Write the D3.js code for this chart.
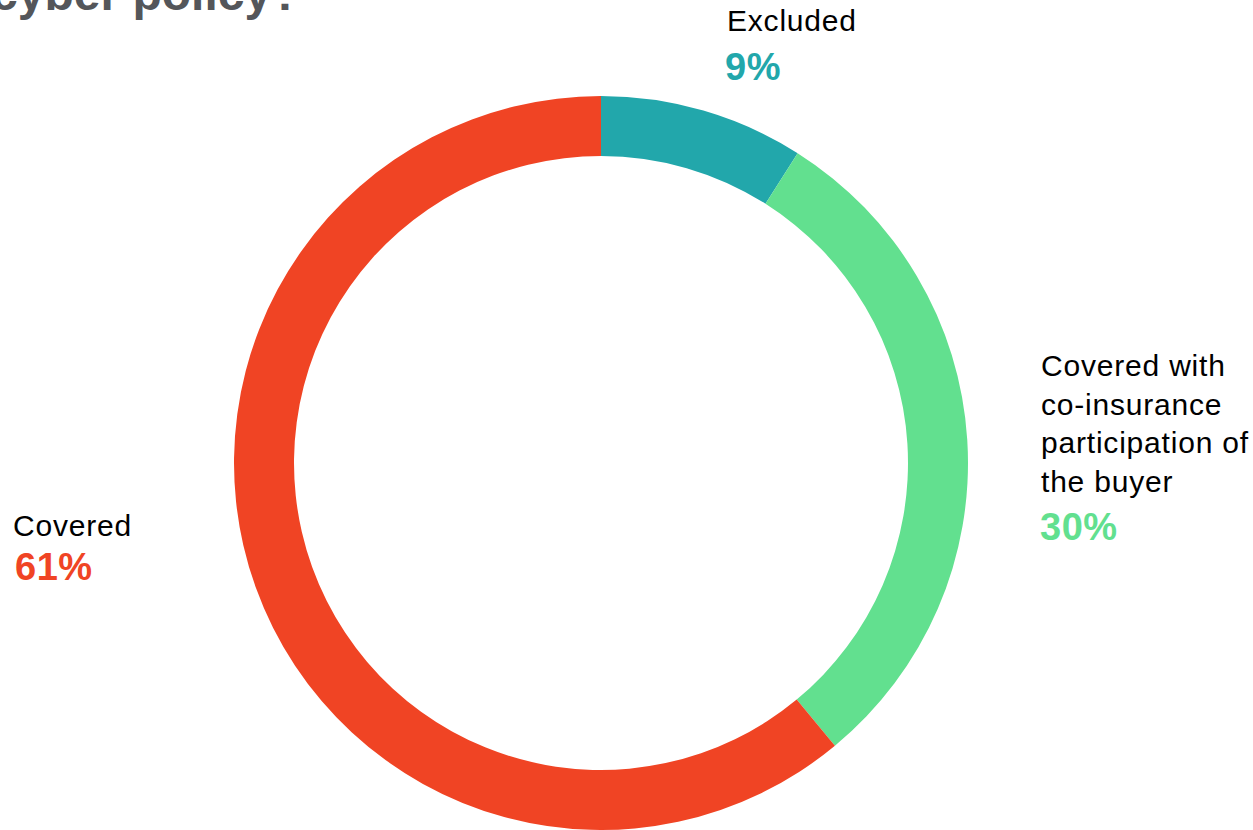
<!DOCTYPE html>
<html>
<head>
<meta charset="utf-8">
<script src="https://cdn.jsdelivr.net/npm/d3@7"></script>
<style>
  html, body { margin: 0; padding: 0; background: #fff; overflow: hidden; }
  svg { display: block; font-family: "Liberation Sans", Arial, sans-serif; }
</style>
</head>
<body>
<svg id="chart" width="1253" height="830"></svg>
<script>
// Share of the loss that the cyber policy covers
const categories = ["Excluded", "Covered with co-insurance participation of the buyer", "Covered"];
const shares = [9, 30, 61];
const colours = ["#22a7ab", "#62e08f", "#f04424"];

const svg = d3.select("#chart");
const cx = 601, cy = 463, outerR = 367, innerR = 307;

// Title (only its last line sits inside the frame)
svg.append("text")
  .attr("x", -9).attr("y", 10)
  .attr("font-size", 48).attr("font-weight", "bold")
  .attr("fill", "#54565a")
  .text("cyber policy?");

const pie = d3.pie().sort(null).value(d => d.value);
const arc = d3.arc().innerRadius(innerR).outerRadius(outerR);
const data = categories.map((c, i) => ({ name: c, value: shares[i], colour: colours[i] }));

svg.append("g")
  .attr("transform", `translate(${cx},${cy})`)
  .selectAll("path")
  .data(pie(data))
  .join("path")
  .attr("d", arc)
  .attr("fill", d => d.data.colour);

// Label blocks: name lines in black, percentage in the slice colour
const labels = [
  { lines: ["Excluded"], x: 727, y: 31, widths: [], pctX: 725, pctY: 80 },
  { lines: ["Covered with", "co-insurance", "participation of", "the buyer"], x: 1041, y: 376, widths: [184, null, 204, null], pctX: 1040, pctY: 540 },
  { lines: ["Covered"], x: 13, y: 536, widths: [], pctX: 15, pctY: 580 }
];
const lineH = 38.7;

labels.forEach((l, i) => {
  const g = svg.append("g");
  l.lines.forEach((line, j) => {
    const t = g.append("text")
      .attr("x", l.x).attr("y", l.y + j * lineH)
      .attr("font-size", 30).attr("letter-spacing", 0.8).attr("fill", "#000")
      .text(line);
    const target = l.widths[j];
    if (target) {
      const w = t.node().getComputedTextLength();
      const gaps = line.split(" ").length - 1;
      if (gaps > 0 && w < target) t.attr("word-spacing", (target - w) / gaps);
    }
  });
  g.append("text")
    .attr("x", l.pctX).attr("y", l.pctY)
    .attr("font-size", 38).attr("letter-spacing", 0.5).attr("font-weight", "bold")
    .attr("fill", colours[i])
    .text(d3.format("d")(shares[i]) + "%");
});
</script>
</body>
</html>
